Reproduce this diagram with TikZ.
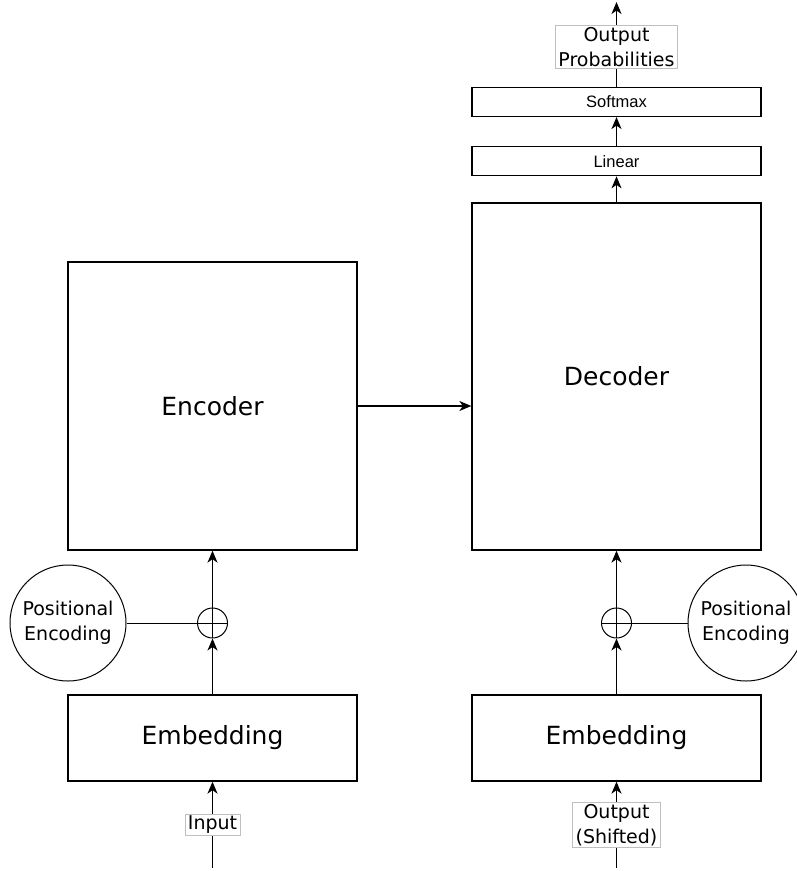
\documentclass[tikz,border=0pt]{standalone}
\usepackage{fontspec}
\setmainfont{DejaVu Sans}
\newfontfamily\helv{Liberation Sans}
\usetikzlibrary{arrows.meta, positioning, calc}

\begin{document}
\begin{tikzpicture}[x=1pt,y=-1pt, line width=1.3pt, blk/.style={rectangle,draw,minimum width=289pt,font=\fontsize{25}{30}\selectfont}, thin/.style={rectangle,draw,minimum width=289pt,minimum height=29pt,font=\helv\fontsize{16.5}{20}\selectfont}, pe/.style={circle,draw,line width=1pt,minimum size=116pt,inner sep=0pt,align=center,font=\fontsize{19}{25}\selectfont}, add/.style={circle,draw,line width=1pt,minimum size=30pt,inner sep=0pt,path picture={\draw[line width=1pt](path picture bounding box.north)--(path picture bounding box.south)(path picture bounding box.west)--(path picture bounding box.east);}}, lbl/.style={rectangle,draw=black!25,line width=0.6pt,fill=white,inner xsep=3pt,inner ysep=2pt,align=center,font=\fontsize{19}{25}\selectfont}, arr/.style={-{Stealth[length=12pt,width=10pt,inset=3.5pt]}}]
  \useasboundingbox (0,0) rectangle (797,871);
  \node[blk,minimum height=288pt](enc) at (212.5,406){Encoder};
  \node[blk,minimum height=347pt](dec) at (616.5,376.5){Decoder};
  \node[thin,above=26pt of dec](lin){Linear};
  \node[thin,above=29pt of lin](smx){Softmax};
  \node[blk,minimum height=86pt](embL) at (212.5,738){Embedding};
  \node[blk,minimum height=86pt](embR) at (616.5,738){Embedding};
  \node[add](addL) at (212.5,623){};
  \node[add](addR) at (616.5,623){};
  \node[pe](peL) at (68,623){Positional\\Encoding};
  \node[pe](peR) at (746,623){Positional\\Encoding};
  \coordinate (inL) at (212.5,868);
  \coordinate (inR) at (616.5,868);
  \coordinate (outT) at (616.5,2);
  \foreach \x/\y in {embL/addL,addL/enc,embR/addR,addR/dec,dec/lin,lin/smx}{\draw[arr](\x)--(\y);}
  \draw[line width=1pt](peL)--(addL);
  \draw[line width=1pt](peR)--(addR);
  \draw[arr](enc.east)--(enc.east-|dec.west);
  \draw[arr](inL)--node[lbl]{Input}(embL);
  \draw[arr](inR)--node[lbl]{Output\\(Shifted)}(embR);
  \draw[arr](smx)--node[lbl,pos=0.47]{Output\\Probabilities}(outT);
\end{tikzpicture}
\end{document}
